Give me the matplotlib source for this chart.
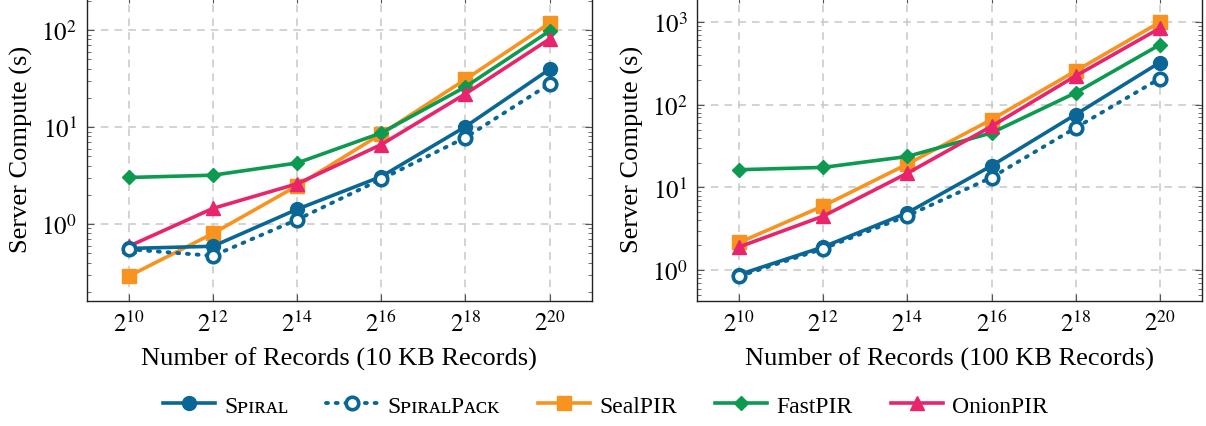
import matplotlib
matplotlib.use('Agg')
from matplotlib import pyplot as plt
from matplotlib.ticker import FixedLocator, LogLocator, NullFormatter

plt.rcParams['font.family'] = ['Liberation Serif', 'DejaVu Serif']
plt.rcParams['mathtext.fontset'] = 'stix'

# Datos
records = [2**10, 2**12, 2**14, 2**16, 2**18, 2**20]
xtick_labels = ['$2^{10}$', '$2^{12}$', '$2^{14}$', '$2^{16}$', '$2^{18}$', '$2^{20}$']

spiral_10kb = [0.56, 0.59, 1.42, 3.09, 10.1, 39.5]
spiralpack_10kb = [0.55, 0.47, 1.11, 2.9, 7.8, 27.8]
sealpir_10kb = [0.29, 0.8, 2.48, 8.5, 31, 118]
fastpir_10kb = [3.02, 3.19, 4.26, 8.7, 26, 98]
onionpir_10kb = [0.59, 1.45, 2.6, 6.6, 22, 81]

spiral_100kb = [0.89, 1.92, 4.96, 18.3, 76, 322]
spiralpack_100kb = [0.85, 1.83, 4.56, 13.2, 52.5, 206]
sealpir_100kb = [2.17, 6.0, 19.2, 66, 255, 986]
fastpir_100kb = [16.4, 17.5, 23.7, 45.6, 139, 527]
onionpir_100kb = [1.92, 4.52, 14.9, 54.8, 222, 834]

names = ['Sᴘɪʀᴀʟ', 'SᴘɪʀᴀʟPᴀᴄᴋ', 'SealPIR', 'FastPIR', 'OnionPIR']

BLUE = '#0a6795'
ORANGE = '#f7931e'
GREEN = '#0b9a50'
PINK = '#e8246c'

W, H = 1206, 427
fig = plt.figure(figsize=(W / 100, H / 100), dpi=100)


def make_axes(x0, x1):
    bottom = 301.7
    top = -3
    return fig.add_axes([x0 / W, 1 - bottom / H, (x1 - x0) / W, (bottom - top) / H])


def draw_panel(ax, series, ylim, yticks, xlabel):
    spiral, spiralpack, sealpir, fastpir, onionpir = series
    ax.plot(records, spiral, color=BLUE, lw=2.6, marker='o', ms=10, label=names[0], zorder=5)
    ax.plot(records, spiralpack, color=BLUE, lw=2.8, ls=(0, (0.5, 2.0)),
            dash_capstyle='round', marker='o', ms=9, mfc='white', mew=2.6,
            label=names[1], zorder=6)
    ax.plot(records, sealpir, color=ORANGE, lw=2.6, marker='s', ms=10, label=names[2], zorder=3)
    ax.plot(records, fastpir, color=GREEN, lw=2.6, marker='D', ms=7.5, label=names[3], zorder=4)
    ax.plot(records, onionpir, color=PINK, lw=2.6, marker='^', ms=10.5, label=names[4], zorder=4)

    ax.set_xscale('log', base=2)
    ax.set_yscale('log')
    ax.set_xlim(2**9, 2**21)
    ax.set_ylim(*ylim)
    ax.xaxis.set_major_locator(FixedLocator(records))
    ax.set_xticklabels(xtick_labels)
    ax.xaxis.set_minor_locator(FixedLocator([]))
    ax.yaxis.set_major_locator(FixedLocator(yticks))
    ax.set_yticklabels(['$10^{%d}$' % i for i in range(len(yticks))])
    ax.yaxis.set_minor_locator(LogLocator(base=10, subs=range(2, 10)))
    ax.yaxis.set_minor_formatter(NullFormatter())

    ax.tick_params(which='both', direction='in', top=True, right=True,
                   color='#555555', labelsize=18, pad=7)
    ax.tick_params(which='major', length=5, width=0.8)
    ax.tick_params(which='minor', length=3, width=0.6)
    ax.grid(True, which='major', color='#c8c8c8', ls=(0, (5, 4)), lw=1.1)
    for sp in ax.spines.values():
        sp.set_linewidth(1.0)
        sp.set_color('#222222')
    ax.set_xlabel(xlabel, fontsize=19, labelpad=8)
    ax.set_ylabel('Server Compute (s)', fontsize=19, labelpad=6)


ax1 = make_axes(86.7, 591.7)
draw_panel(ax1, [spiral_10kb, spiralpack_10kb, sealpir_10kb, fastpir_10kb, onionpir_10kb],
           (0.162, 10**(2 + 34.1 / 97)), [1, 10, 100],
           'Number of Records (10 KB Records)')

ax2 = make_axes(697.3, 1201.7)
draw_panel(ax2, [spiral_100kb, spiralpack_100kb, sealpir_100kb, fastpir_100kb, onionpir_100kb],
           (0.43, 10**(3 + 25.8 / 82.8)), [1, 10, 100, 1000],
           'Number of Records (100 KB Records)')

handles, labels = ax1.get_legend_handles_labels()
fig.legend(handles, labels, loc='center', bbox_to_anchor=(0.502, 1 - 407 / H), ncol=5,
           frameon=False, fontsize=17, handlelength=2.2, columnspacing=1.6,
           handletextpad=0.4)

fig.savefig('out.png', dpi=100)
